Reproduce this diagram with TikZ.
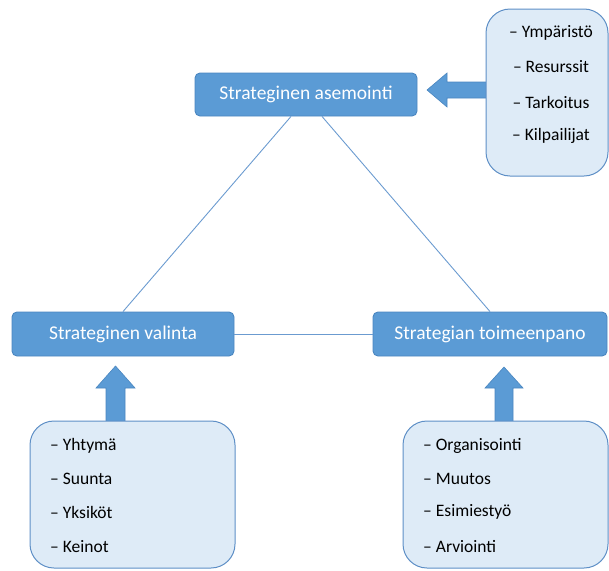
\documentclass[tikz,border=0pt]{standalone}
\usepackage{fontspec}
\setmainfont{Carlito}
\definecolor{boxblue}{HTML}{5B9BD5}
\definecolor{boxedge}{HTML}{4A86C0}
\definecolor{listfill}{HTML}{DEEBF7}
\definecolor{listedge}{HTML}{5E8FC6}
\definecolor{linkblue}{HTML}{6B9BD0}
\tikzset{
  stagebox/.style={draw=boxedge, line width=0.9pt, fill=boxblue, rounded corners=5pt,
    text=white, font=\fontsize{19.5}{22}\selectfont, inner sep=0pt},
  listbox/.style={draw=listedge, line width=1pt, fill=listfill, rounded corners=24pt, inner sep=0pt},
  item/.style={font=\fontsize{17.5}{20}\selectfont, text=black, inner sep=0pt},
  link/.style={draw=linkblue, line width=0.9pt},
  blockarrow/.style={draw=boxedge, line width=0.6pt, fill=boxblue},
}
\begin{document}
\begin{tikzpicture}[x=1pt, y=-1pt]
\useasboundingbox (0,0) rectangle (609,570);

% block arrows feeding the three stages (drawn beneath the list boxes)
\draw[blockarrow] (427,90) -- (447,73) -- (447,82) -- (490,82) -- (490,98) -- (447,98) -- (447,107) -- cycle;
\draw[blockarrow] (115.5,366) -- (135,388) -- (125,388) -- (125,425) -- (106,425) -- (106,388) -- (96,388) -- cycle;
\draw[blockarrow] (504,367) -- (523,388) -- (513,388) -- (513,425) -- (495,425) -- (495,388) -- (485,388) -- cycle;

% the three stages
\node[stagebox, minimum width=222pt, minimum height=43pt] (asemointi) at (306,94.5) {Strateginen asemointi};
\node[stagebox, minimum width=222pt, minimum height=44pt] (valinta) at (123,334) {Strateginen valinta};
\node[stagebox, minimum width=234pt, minimum height=44pt] (toimeenpano) at (490,334) {Strategian toimeenpano};

% triangle connecting the stages
\draw[link] ([xshift=-15pt]asemointi.south) -- (valinta.north);
\draw[link] ([xshift=16pt]asemointi.south) -- (toimeenpano.north);
\draw[link] (valinta.east) -- (toimeenpano.west);

% lists of factors
\node[listbox, minimum width=122pt, minimum height=167pt] (ymparisto) at (547,92.5) {};
\node[listbox, minimum width=205pt, minimum height=147pt] (yhtyma) at (132.5,494.5) {};
\node[listbox, minimum width=205pt, minimum height=147pt] (organisointi) at (505.5,494.5) {};

\node[item] (i1) at (551,33) {– Ympäristö};
\node[item] (i2) at (551,67) {– Resurssit};
\node[item] (i3) at (551,102) {– Tarkoitus};
\node[item] (i4) at (551,136) {– Kilpailijat};

\node[item, anchor=west] (j1) at (50,446) {– Yhtymä};
\node[item, anchor=west] (j2) at (50,479) {– Suunta};
\node[item, anchor=west] (j3) at (50,512) {– Yksiköt};
\node[item, anchor=west] (j4) at (50,547) {– Keinot};

\node[item, anchor=west] (k1) at (423,446) {– Organisointi};
\node[item, anchor=west] (k2) at (423,479) {– Muutos};
\node[item, anchor=west] (k3) at (423,512) {– Esimiestyö};
\node[item, anchor=west] (k4) at (423,547) {– Arviointi};
\end{tikzpicture}
\end{document}
